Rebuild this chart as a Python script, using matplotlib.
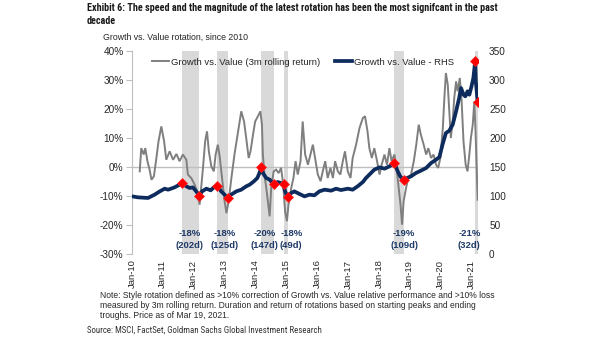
import matplotlib
matplotlib.use("Agg")
import matplotlib.pyplot as plt
from matplotlib import font_manager
from matplotlib.lines import Line2D

# ---- data -------------------------------------------------------------
# Growth vs. Value relative index (RHS), time in decimal years
blue_t = [2010.00, 2010.19, 2010.52, 2010.73, 2010.90, 2011.06, 2011.17, 2011.38,
          2011.54, 2011.63, 2011.76, 2011.87, 2011.97, 2012.08, 2012.18, 2012.27,
          2012.41, 2012.55, 2012.65, 2012.76, 2012.89, 2013.00, 2013.10, 2013.21,
          2013.38, 2013.54, 2013.70, 2013.81, 2013.95, 2014.06, 2014.13, 2014.19,
          2014.24, 2014.35, 2014.46, 2014.59, 2014.72, 2014.83, 2014.91, 2014.96,
          2015.04, 2015.16, 2015.26, 2015.43, 2015.59, 2015.75, 2015.91, 2016.07,
          2016.24, 2016.45, 2016.61, 2016.77, 2016.99, 2017.15, 2017.31, 2017.48,
          2017.58, 2017.69, 2017.85, 2018.02, 2018.18, 2018.34, 2018.50, 2018.61,
          2018.69, 2018.80, 2018.91, 2019.04, 2019.20, 2019.36, 2019.53, 2019.69,
          2019.85, 2019.96, 2020.06, 2020.17, 2020.28, 2020.39, 2020.50, 2020.60,
          2020.66, 2020.74, 2020.80, 2020.87, 2020.93, 2021.00, 2021.06, 2021.12,
          2021.14, 2021.20]
blue_idx = [99.4, 97.7, 96.6, 102.3, 108.0, 112.6, 110.9, 114.9,
            119.5, 122.0, 116.7, 113.8, 114.9, 108.0, 100.0, 108.0,
            112.6, 109.8, 114.9, 118.0, 108.0, 102.3, 97.0, 102.3,
            108.0, 110.9, 116.7, 119.5, 125.3, 131.0, 139.7, 150.0,
            139.7, 131.0, 128.2, 120.0, 124.1, 122.4, 121.0, 108.0,
            99.0, 105.2, 108.0, 103.4, 99.4, 102.3, 101.2, 108.0,
            110.9, 109.2, 112.6, 110.3, 112.6, 110.9, 116.7, 124.1,
            131.0, 136.8, 145.4, 149.4, 147.1, 151.1, 157.0, 142.5,
            133.9, 127.0, 131.0, 133.9, 139.7, 143.7, 148.3, 156.9,
            162.6, 167.2, 188.5, 208.6, 212.6, 223.0, 246.0, 269.0,
            286.2, 274.7, 271.8, 280.5, 274.7, 289.1, 303.4, 333.0,
            297.7, 262.0]

# Growth vs. Value 3m rolling return (%), LHS
gray_t = [2010.25, 2010.30, 2010.38, 2010.43, 2010.50, 2010.57, 2010.63, 2010.71,
          2010.79, 2010.86, 2010.95, 2011.04, 2011.11, 2011.22, 2011.33, 2011.44,
          2011.54, 2011.65, 2011.76, 2011.81, 2011.92, 2012.03, 2012.11, 2012.19,
          2012.24, 2012.30, 2012.37, 2012.43, 2012.49, 2012.57, 2012.65, 2012.71,
          2012.78, 2012.84, 2012.91, 2013.00, 2013.06, 2013.13, 2013.22, 2013.32,
          2013.43, 2013.54, 2013.63, 2013.70, 2013.78, 2013.84, 2013.92, 2013.99,
          2014.08, 2014.16, 2014.21, 2014.24, 2014.29, 2014.35, 2014.40, 2014.46,
          2014.51, 2014.59, 2014.67, 2014.75, 2014.83, 2014.90, 2014.96, 2015.02,
          2015.07, 2015.16, 2015.23, 2015.30, 2015.37, 2015.46, 2015.53, 2015.61,
          2015.70, 2015.78, 2015.86, 2015.93, 2016.02, 2016.11, 2016.18, 2016.26,
          2016.34, 2016.43, 2016.51, 2016.58, 2016.67, 2016.75, 2016.83, 2016.90,
          2016.99, 2017.08, 2017.15, 2017.26, 2017.37, 2017.48, 2017.55, 2017.63,
          2017.69, 2017.77, 2017.85, 2017.94, 2018.02, 2018.09, 2018.18, 2018.26,
          2018.34, 2018.41, 2018.50, 2018.57, 2018.63, 2018.70, 2018.75, 2018.80,
          2018.88, 2018.95, 2019.04, 2019.13, 2019.21, 2019.29, 2019.36, 2019.45,
          2019.53, 2019.60, 2019.69, 2019.77, 2019.85, 2019.92, 2019.99, 2020.07,
          2020.12, 2020.17, 2020.23, 2020.28, 2020.33, 2020.39, 2020.44, 2020.50,
          2020.55, 2020.62, 2020.68, 2020.74, 2020.81, 2020.87, 2020.93, 2020.98,
          2021.04, 2021.09, 2021.13, 2021.18, 2021.20]
gray_pct = [-1.5, 6.5, 4.3, 6.5, 2.0, -0.9, -4.4, -3.2,
            3.1, 8.9, 14.0, 8.9, 2.5, 5.4, 2.5, 4.5,
            2.0, 4.3, 2.5, -2.6, -3.8, -6.1, -8.4, -13.0,
            -7.2, -0.3, 8.9, 12.3, 5.4, 0.2, -1.5, 4.3,
            7.7, 3.7, -3.2, -11.8, -15.9, -11.8, -3.8, 4.3,
            11.7, 19.2, 15.7, 10.0, 3.1, 5.4, 11.1, 15.7,
            17.5, 19.2, 14.6, 4.3, -2.6, -7.2, -11.8, -17.0,
            -7.2, -1.5, -0.9, -2.1, -0.3, -6.1, -15.3, -18.7,
            -13.0, -7.2, -3.8, 2.0, -2.6, 2.0, 15.7, 4.3,
            0.8, 4.3, 7.7, 3.1, -2.6, -4.9, -1.5, 2.0,
            -3.8, -0.3, -3.8, 2.0, -1.5, -2.6, 2.0, 5.4,
            -1.5, -3.8, 3.1, 7.7, 13.4, 16.9, 17.5, 12.3,
            6.5, 3.1, 6.5, 2.0, -2.6, 0.8, 4.3, 0.8,
            6.5, 2.0, 4.3, -0.3, -6.1, -13.0, -19.9, -11.8,
            -7.2, -3.8, -2.6, 2.0, 7.7, 14.6, 11.1, 7.7,
            4.3, 6.5, 3.1, 4.3, 0.8, -0.3, 3.1, 13.4,
            23.8, 32.4, 28.4, 19.2, 10.0, 15.7, 23.8, 29.5,
            26.1, 30.7, 22.6, 8.9, 0.8, -1.5, 4.3, 10.0,
            14.6, 22.6, 12.3, -3.8, -11.3]

# Rotation episodes: starting peak and ending trough of the RHS index
peak_t = [2011.63, 2012.76, 2014.19, 2014.91, 2018.50, 2021.12]
peak_idx = [122.0, 118.0, 150.0, 121.0, 157.0, 333.0]
trough_t = [2012.18, 2013.10, 2014.59, 2015.04, 2018.80, 2021.20]
trough_idx = [100.0, 97.0, 120.0, 99.0, 127.0, 262.0]
rot_return = ["-18%", "-18%", "-20%", "-18%", "-19%", "-21%"]
rot_days = [202, 125, 147, 49, 109, 32]
label_t = [2011.87, 2013.00, 2014.29, 2015.16, 2018.82, 2020.93]

year_ticks = list(range(2010, 2022))
year_labels = ["Jan-%02d" % (y % 100) for y in year_ticks]
left_ticks = [-30, -20, -10, 0, 10, 20, 30, 40]
right_ticks = [0, 50, 100, 150, 200, 250, 300, 350]

# ---- styling ------------------------------------------------------------
names = {f.name for f in font_manager.fontManager.ttflist}
body_font = "Liberation Sans" if "Liberation Sans" in names else "DejaVu Sans"
narrow_font = body_font
for cand in ["Liberation Sans Narrow", "Roboto Condensed", "Open Sans Condensed",
             "Noto Sans Condensed"]:
    if cand in names:
        narrow_font = cand
        break
plt.rcParams["font.family"] = [body_font, "DejaVu Sans"]

GRAY = "#7f7f7f"
NAVY = "#0d2b5c"
LABEL_BLUE = "#1f3a68"
BAND = "#d9d9d9"
AXIS = "#bfbfbf"
TXT = "#262626"
FS = 6.8

W, H = 605, 341
fig = plt.figure(figsize=(W / 100, H / 100), dpi=100)
ax = fig.add_axes([132 / W, 1 - 254 / H, (478 - 132) / W, (254 - 51) / H])
ax2 = ax.twinx()

ax.set_xlim(2010.0, 2021.21)
ax.set_ylim(-30, 40)
ax2.set_ylim(0, 350)

for s, e in zip(peak_t, trough_t):
    ax.axvspan(s, e, color=BAND, lw=0, zorder=0)
ax.axhline(0, color=AXIS, lw=1.0, zorder=1)

ax.plot(gray_t, gray_pct, color=GRAY, lw=1.4, zorder=2, solid_joinstyle="miter")
ax2.plot(blue_t, blue_idx, color=NAVY, lw=2.7, zorder=3, solid_joinstyle="round")
ax2.plot(peak_t + trough_t, peak_idx + trough_idx, ls="none", marker="D",
         ms=5, color="#ff0000", mec="#ff2020", mew=0.5, zorder=4)

for x, r, d in zip(label_t, rot_return, rot_days):
    ax.text(x, -25.0, "%s\n(%dd)" % (r, d), ha="center", va="center",
            fontsize=FS, fontweight="bold", color=LABEL_BLUE, linespacing=1.3)

# axes
for sp in ["top", "right", "bottom"]:
    ax.spines[sp].set_visible(False)
ax.spines["left"].set_color(AXIS)
for sp in ax2.spines.values():
    sp.set_visible(False)

ax.set_xticks(year_ticks)
ax.set_xticklabels(year_labels, rotation=90, fontsize=FS, color=TXT)
ax.tick_params(axis="x", length=0, pad=4)
ax.set_yticks(left_ticks)
ax.set_yticklabels(["%d%%" % v for v in left_ticks], fontsize=FS + 0.4, color=TXT)
ax.tick_params(axis="y", length=4, color=AXIS, pad=2)
ax2.set_yticks(right_ticks)
ax2.set_yticklabels([str(v) for v in right_ticks], fontsize=FS + 0.4, color=TXT)
ax2.tick_params(axis="y", length=0, pad=8)

handles = [Line2D([], [], color=GRAY, lw=1.4), Line2D([], [], color=NAVY, lw=2.7)]
ax2.legend(handles, ["Growth vs. Value (3m rolling return)", "Growth vs. Value - RHS"],
           loc="center left", bbox_to_anchor=(0.058, 0.945), ncol=2, frameon=False,
           fontsize=FS, handlelength=1.8, handletextpad=0.2, columnspacing=1.6,
           borderpad=0, borderaxespad=0, labelcolor=TXT)

# titles and notes
renderer = fig.canvas.get_renderer()


def fit_width(txt, width_px):
    """Shrink a text's font size so its first line spans width_px pixels."""
    bb = txt.get_window_extent(renderer)
    txt.set_fontsize(txt.get_fontsize() * width_px / bb.width)


title_line = fig.text(87 / W, 1 - 3 / H,
                      "Exhibit 6: The speed and the magnitude of the latest rotation has been the most signifcant in the past",
                      ha="left", va="top", fontsize=8, fontweight="bold",
                      family=[narrow_font, "DejaVu Sans"], color="#1a1a1a")
fit_width(title_line, 410)
fig.text(87 / W, 1 - 16 / H, "decade", ha="left", va="top",
         fontsize=title_line.get_fontsize(), fontweight="bold",
         family=[narrow_font, "DejaVu Sans"], color="#1a1a1a")

sub = fig.text(103 / W, 1 - 37 / H, "Growth vs. Value rotation, since 2010",
               ha="left", va="center", fontsize=7, color=TXT)
fit_width(sub, 146)

note_lines = ["Note: Style rotation defined as >10% correction of Growth vs. Value relative performance and >10% loss",
              "measured by 3m rolling return. Duration and return of rotations based on starting peaks and ending",
              "troughs. Price as of Mar 19, 2021."]
first = fig.text(100 / W, 1 - 296 / H, note_lines[0], ha="left", va="center",
                 fontsize=7, color=TXT)
fit_width(first, 394)
for i, line in enumerate(note_lines[1:], start=1):
    fig.text(100 / W, 1 - (296 + 10 * i) / H, line, ha="left", va="center",
             fontsize=first.get_fontsize(), color=TXT)

src = fig.text(87 / W, 1 - 330 / H, "Source: MSCI, FactSet, Goldman Sachs Global Investment Research",
               ha="left", va="center", fontsize=6, family=[narrow_font, "DejaVu Sans"],
               color="#333333")
fit_width(src, 235)

fig.savefig("out.png", dpi=100)
